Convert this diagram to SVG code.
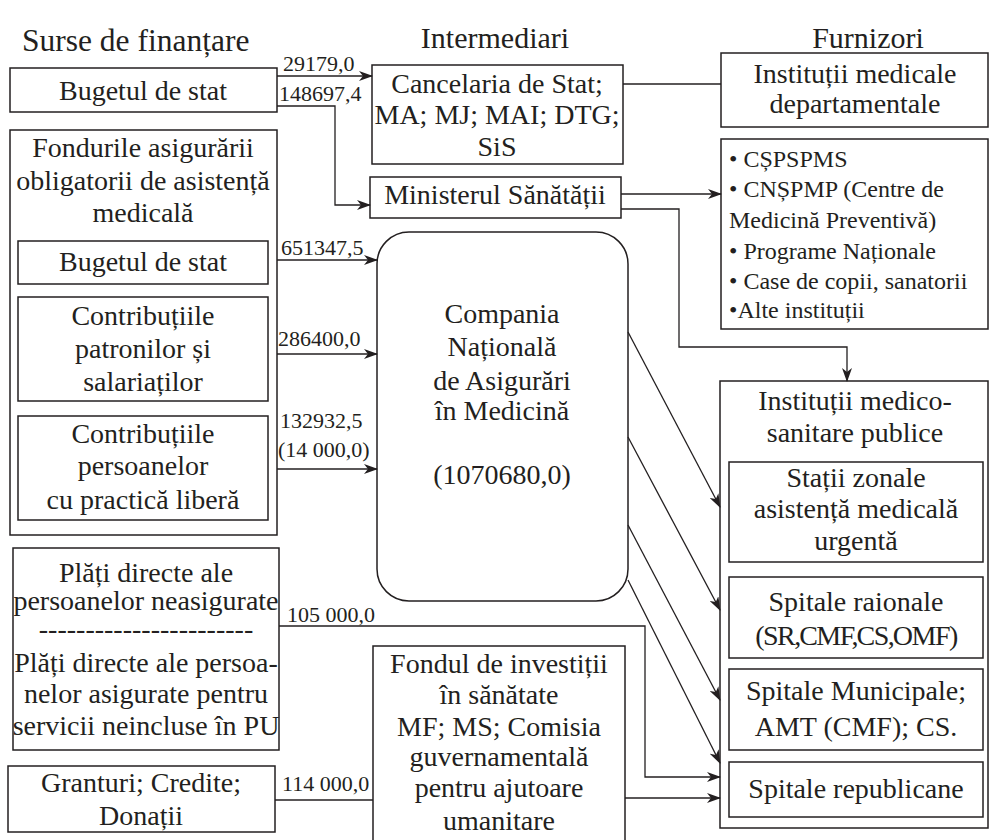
<svg xmlns="http://www.w3.org/2000/svg" width="990" height="840" viewBox="0 0 990 840">
  <defs>
    <marker id="arrow" markerUnits="userSpaceOnUse" markerWidth="14" markerHeight="10" refX="13" refY="5" orient="auto">
      <path d="M0,0 L14,5 L0,10 L4,5 z" fill="#231f20"/>
    </marker>
    <style>
      text { font-family: "Liberation Serif", "Times New Roman", serif; fill: #231f20; }
      .t { font-size: 28px; text-anchor: middle; }
      .h { font-size: 30px; }
      .lbl { font-size: 22px; }
      .lst { font-size: 24px; }
      .tight { letter-spacing: -1.5px; word-spacing: -6px; }
      .box { fill: #ffffff; stroke: #231f20; stroke-width: 1.5; }
      .con { fill: none; stroke: #231f20; stroke-width: 1.3; }
      .arr { marker-end: url(#arrow); }
    </style>
  </defs>
  <rect width="990" height="840" fill="#ffffff"/>

  <!-- column headings -->
  <g id="headings">
    <text class="h" x="22" y="51" style="font-size:31.5px">Surse de finanțare</text>
    <text class="h" x="495" y="48" text-anchor="middle">Intermediari</text>
    <text class="h" x="868" y="48" text-anchor="middle">Furnizori</text>
  </g>

  <!-- sources -->
  <g id="buget-stat">
    <rect class="box" x="10" y="68" width="267" height="44"/>
    <text class="t" x="143" y="100">Bugetul de stat</text>
  </g>
  <g id="fonduri-asigurare">
    <rect class="box" x="10" y="130" width="267" height="405"/>
    <text class="t" x="143" y="157">Fondurile asigurării</text>
    <text class="t" x="143" y="190">obligatorii de asistență</text>
    <text class="t" x="143" y="222">medicală</text>
  </g>
  <g id="fond-buget">
    <rect class="box" x="18" y="241" width="250" height="43"/>
    <text class="t" x="143" y="271">Bugetul de stat</text>
  </g>
  <g id="fond-patroni">
    <rect class="box" x="18" y="297" width="250" height="104"/>
    <text class="t" x="143" y="325">Contribuțiile</text>
    <text class="t" x="143" y="358">patronilor și</text>
    <text class="t" x="143" y="391">salariaților</text>
  </g>
  <g id="fond-practica">
    <rect class="box" x="18" y="416" width="250" height="104"/>
    <text class="t" x="143" y="443">Contribuțiile</text>
    <text class="t" x="143" y="475">persoanelor</text>
    <text class="t" x="143" y="509">cu practică liberă</text>
  </g>
  <g id="plati-directe">
    <rect class="box" x="13" y="548" width="266" height="202"/>
    <text class="t" x="146" y="582">Plăți directe ale</text>
    <text class="t" x="146" y="610">persoanelor neasigurate</text>
    <text class="t" x="146" y="638">-----------------------</text>
    <text class="t" x="146" y="672">Plăți directe ale persoa-</text>
    <text class="t" x="146" y="703">nelor asigurate pentru</text>
    <text class="t" x="146" y="735">servicii neincluse în PU</text>
  </g>
  <g id="granturi">
    <rect class="box" x="8" y="766" width="267" height="66"/>
    <text class="t" x="141" y="792">Granturi; Credite;</text>
    <text class="t" x="141" y="825">Donații</text>
  </g>

  <!-- intermediaries -->
  <g id="cancelaria">
    <rect class="box" x="372" y="65" width="251" height="99"/>
    <text class="t" x="497" y="93">Cancelaria de Stat;</text>
    <text class="t" x="497" y="124">MA; MJ; MAI; DTG;</text>
    <text class="t" x="497" y="156">SiS</text>
  </g>
  <g id="ministerul">
    <rect class="box" x="370" y="177" width="251" height="41"/>
    <text class="t" x="495" y="204">Ministerul Sănătății</text>
  </g>
  <g id="cnam">
    <rect class="box" x="377" y="232" width="251" height="369" rx="32" ry="32"/>
    <text class="t" x="502" y="323">Compania</text>
    <text class="t" x="502" y="356">Națională</text>
    <text class="t" x="502" y="390">de Asigurări</text>
    <text class="t" x="502" y="420">în Medicină</text>
    <text class="t" x="502" y="484">(1070680,0)</text>
  </g>
  <g id="fond-investitii">
    <rect class="box" x="373" y="646" width="252" height="210"/>
    <text class="t" x="499" y="673">Fondul de investiții</text>
    <text class="t" x="499" y="704">în sănătate</text>
    <text class="t" x="499" y="736">MF; MS; Comisia</text>
    <text class="t" x="499" y="766">guvernamentală</text>
    <text class="t" x="499" y="797">pentru ajutoare</text>
    <text class="t" x="499" y="830">umanitare</text>
  </g>

  <!-- providers -->
  <g id="inst-departamentale">
    <rect class="box" x="721" y="53" width="267" height="74"/>
    <text class="t" x="855" y="83">Instituții medicale</text>
    <text class="t" x="855" y="113">departamentale</text>
  </g>
  <g id="inst-ms">
    <rect class="box" x="721" y="139" width="267" height="190"/>
    <text class="lst" x="729" y="167">• CȘPSPMS</text>
    <text class="lst" x="729" y="197">• CNȘPMP (Centre de</text>
    <text class="lst" x="729" y="228">Medicină Preventivă)</text>
    <text class="lst" x="729" y="259">• Programe Naționale</text>
    <text class="lst" x="729" y="289">• Case de copii, sanatorii</text>
    <text class="lst" x="729" y="318">•Alte instituții</text>
  </g>
  <g id="imsp">
    <rect class="box" x="720" y="381" width="268" height="447"/>
    <text class="t" x="855" y="410">Instituții medico-</text>
    <text class="t" x="855" y="442">sanitare publice</text>
  </g>
  <g id="statii-urgenta">
    <rect class="box" x="729" y="462" width="254" height="100"/>
    <text class="t" x="856" y="487">Stații zonale</text>
    <text class="t" x="856" y="518">asistență medicală</text>
    <text class="t" x="856" y="550">urgentă</text>
  </g>
  <g id="spitale-raionale">
    <rect class="box" x="729" y="577" width="254" height="81"/>
    <text class="t" x="856" y="611">Spitale raionale</text>
    <text class="t tight" x="856" y="645">(SR, CMF, CS, OMF)</text>
  </g>
  <g id="spitale-municipale">
    <rect class="box" x="729" y="669" width="254" height="81"/>
    <text class="t" x="856" y="700">Spitale Municipale;</text>
    <text class="t" x="856" y="736">AMT (CMF); CS.</text>
  </g>
  <g id="spitale-republicane">
    <rect class="box" x="729" y="762" width="254" height="55"/>
    <text class="t" x="856" y="798">Spitale republicane</text>
  </g>

  <!-- flows -->
  <g id="connectors">
    <polyline class="con arr" points="277,76 372,76"/>
    <polyline class="con arr" points="277,106 335,106 335,205 370,205"/>
    <polyline class="con" points="623,84 721,84"/>
    <polyline class="con arr" points="621,194 721,194"/>
    <polyline class="con arr" points="621,209 679,209 679,347 847,347 847,381"/>
    <polyline class="con arr" points="277,260 377,260"/>
    <polyline class="con arr" points="277,354 377,354"/>
    <polyline class="con arr" points="277,469 377,469"/>
    <polyline class="con arr" points="628,332 720,507"/>
    <polyline class="con arr" points="628,437 720,610"/>
    <polyline class="con arr" points="628,525 720,700"/>
    <polyline class="con arr" points="628,580 720,763"/>
    <polyline class="con arr" points="279,626 645,626 645,777 720,777"/>
    <polyline class="con" points="275,800 373,800"/>
    <polyline class="con arr" points="625,798 720,798"/>
  </g>

  <!-- flow amounts -->
  <g id="amounts">
    <text class="lbl" x="283" y="71">29179,0</text>
    <text class="lbl" x="279" y="101">148697,4</text>
    <text class="lbl" x="281" y="255">651347,5</text>
    <text class="lbl" x="278" y="346">286400,0</text>
    <text class="lbl" x="280" y="428">132932,5</text>
    <text class="lbl" x="278" y="457">(14 000,0)</text>
    <text class="lbl" x="287" y="622">105 000,0</text>
    <text class="lbl" x="282" y="791">114 000,0</text>
  </g>
</svg>
